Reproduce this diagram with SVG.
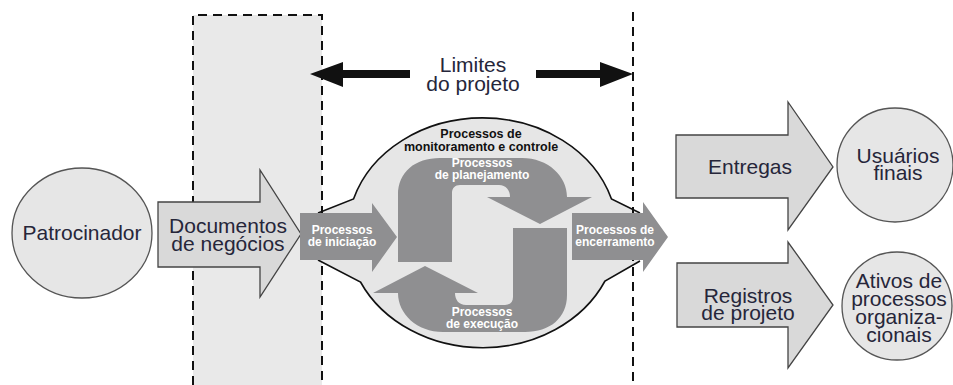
<svg xmlns="http://www.w3.org/2000/svg" width="953" height="385" viewBox="0 0 953 385">
  <style>
    .lbl { font-family: "Liberation Sans", Arial, sans-serif; font-size: 21px; fill: #26263a; text-anchor: middle; }
    .wb { font-family: "Liberation Sans", Arial, sans-serif; font-size: 12px; font-weight: bold; fill: #ffffff; text-anchor: middle; }
    .bb { font-family: "Liberation Sans", Arial, sans-serif; font-size: 12.5px; font-weight: bold; fill: #111111; text-anchor: middle; }
    .light { fill: #e6e6e6; stroke: #555555; stroke-width: 1.3; }
    .flow { fill: #d9d9d9; stroke: #444444; stroke-width: 1.3; }
    .proc { fill: #8f8f91; }
    .dash { fill: none; stroke: #111111; stroke-width: 2; stroke-dasharray: 9 6; }
  </style>
  <defs>
    <!-- upper half of the process cycle; the lower half is the same shape turned 180 degrees -->
    <path id="cycleArrow" d="M 398,262 L 398,195 C 398,172 415,158 440,158 L 522,158 C 548,158 567,176 567,197 L 592,197 L 540,224 L 487,197 L 510,197 C 510,190 506,185 499,185 L 460,185 C 455,185 452,188 452,193 L 452,262 Z"/>
  </defs>

  <rect width="953" height="385" fill="#ffffff"/>

  <!-- shaded business area -->
  <g id="business-area">
    <rect x="193" y="15" width="129" height="375" fill="#e9e9e9"/>
  </g>

  <!-- process group envelope -->
  <g id="process-groups">
    <path d="M 318,213 L 353.5,199 A 135 115 0 0 1 611.5,199 L 640,213 L 640,261 L 605,281 A 135 115 0 0 1 360.5,282 L 318,260 Z" fill="#e6e6e6"/>
    <path d="M 318,213 L 353.5,199 A 135 115 0 0 1 611.5,199 L 640,213" fill="none" stroke="#111111" stroke-width="1.6"/>
    <path d="M 640,261 L 605,281 A 135 115 0 0 1 360.5,282 L 318,260" fill="none" stroke="#111111" stroke-width="1.6"/>
  </g>

  <!-- project boundaries -->
  <g id="boundaries">
    <path class="dash" d="M 193,385 L 193,15 L 322,15 L 322,385"/>
    <path class="dash" d="M 633,12 L 633,385" stroke-width="1.6"/>
  </g>

  <g id="connectors">
    <!-- project limits double arrow -->
    <path d="M 410,70 L 343,70 L 343,62 L 310,74 L 343,87 L 343,78 L 410,78 Z" fill="#111111"/>
    <path d="M 536,70 L 600,70 L 600,62 L 633,74 L 600,87 L 600,78 L 536,78 Z" fill="#111111"/>
  </g>

  <g id="limites">
    <text class="lbl" x="473" y="72">Limites</text>
    <text class="lbl" x="473" y="91">do projeto</text>
  </g>

  <g id="patrocinador">
    <ellipse class="light" cx="82" cy="233" rx="70" ry="65"/>
    <text class="lbl" x="82" y="240">Patrocinador</text>
  </g>

  <g id="documentos">
    <path class="flow" d="M 158,202 L 260,202 L 260,170 L 301,234 L 260,297 L 260,267 L 158,267 Z"/>
    <text class="lbl" x="228" y="233">Documentos</text>
    <text class="lbl" x="228" y="251">de negócios</text>
  </g>

  <g id="monitoramento">
    <text class="bb" x="481" y="138">Processos de</text>
    <text class="bb" x="481" y="150.5">monitoramento e controle</text>
  </g>

  <g id="planejamento">
    <use href="#cycleArrow" class="proc"/>
    <text class="wb" x="482" y="167">Processos</text>
    <text class="wb" x="482" y="179">de planejamento</text>
  </g>

  <g id="execucao">
    <use href="#cycleArrow" class="proc" transform="rotate(180 482.5 245)"/>
    <text class="wb" x="482" y="316">Processos</text>
    <text class="wb" x="482" y="328">de execução</text>
  </g>

  <g id="iniciacao">
    <path class="proc" d="M 300,213 L 372,213 L 372,203 L 397,237 L 372,272 L 372,260 L 300,260 Z"/>
    <text class="wb" x="342" y="234">Processos</text>
    <text class="wb" x="342" y="246">de iniciação</text>
  </g>

  <g id="encerramento">
    <path class="proc" d="M 572,213 L 643,213 L 643,202 L 668,237 L 643,272 L 643,260 L 572,260 Z"/>
    <text class="wb" x="615" y="234">Processos de</text>
    <text class="wb" x="615" y="246">encerramento</text>
  </g>

  <g id="entregas">
    <path class="flow" d="M 676,135 L 788,135 L 788,102 L 833,167 L 788,230 L 788,198 L 676,198 Z"/>
    <text class="lbl" x="750" y="174">Entregas</text>
  </g>

  <g id="registros">
    <path class="flow" d="M 677,263 L 788,263 L 788,242 L 833,305 L 788,368 L 788,327 L 677,327 Z"/>
    <text class="lbl" x="748" y="303">Registros</text>
    <text class="lbl" x="748" y="320">de projeto</text>
  </g>

  <g id="usuarios">
    <ellipse class="light" cx="895" cy="165" rx="58" ry="57"/>
    <text class="lbl" x="898" y="163">Usuários</text>
    <text class="lbl" x="898" y="180">finais</text>
  </g>

  <g id="ativos">
    <ellipse class="light" cx="897" cy="306" rx="55" ry="54"/>
    <text class="lbl" x="899" y="288">Ativos de</text>
    <text class="lbl" x="899" y="306">processos</text>
    <text class="lbl" x="899" y="324">organiza-</text>
    <text class="lbl" x="899" y="342">cionais</text>
  </g>
</svg>
